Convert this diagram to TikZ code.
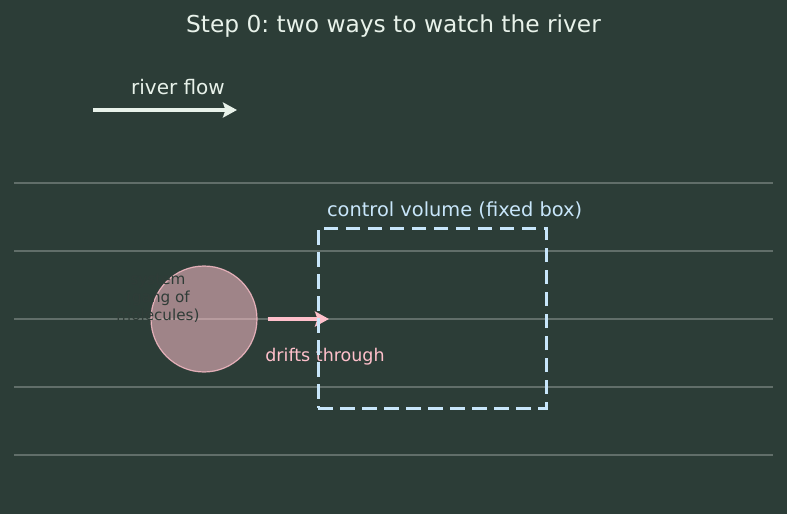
\documentclass[tikz,border=0pt]{standalone}
\usepackage{fontspec}
\setmainfont{DejaVu Sans}
\frenchspacing
\usetikzlibrary{arrows.meta}
\usetikzlibrary{positioning}
\definecolor{riverbg}{HTML}{2C3D37}
\definecolor{waterline}{HTML}{616E69}
\definecolor{paletext}{HTML}{E8F2EA}
\definecolor{cvblue}{HTML}{C8E6FA}
\definecolor{blobpink}{HTML}{FFC0CB}
\definecolor{blobtext}{HTML}{2F3C37}
\tikzset{
semithick, % all lines semithick
>={Stealth[length=14pt,width=15pt,inset=2.5pt]}, % filled heads
water line/.style={draw=waterline,line width=1.5pt},
flow arrow/.style={->,draw=paletext,line width=3.3pt},
drift arrow/.style={->,draw=blobpink,line width=3.3pt},
sys blob/.style={circle,draw=blobpink,line width=1.2pt,fill=blobpink,
  fill opacity=0.55,draw opacity=0.8,minimum size=106pt,inner sep=0pt},
sys text/.style={text=blobtext,align=center,font=\fontsize{15.2}{18.2}\selectfont},
cv box/.style={draw=cvblue,line width=3pt,dash pattern=on 14.5pt off 7.5pt,
  minimum width=228pt,minimum height=180pt,inner sep=0pt},
title text/.style={text=paletext,font=\fontsize{23.3}{28}\selectfont,anchor=base},
flow text/.style={text=paletext,font=\fontsize{20}{24}\selectfont,anchor=base},
cv text/.style={text=cvblue,font=\fontsize{19.4}{23}\selectfont,anchor=base west},
drift text/.style={text=blobpink,font=\fontsize{17.5}{21}\selectfont,anchor=base}
}

\begin{document}
\begin{tikzpicture}[x=1pt,y=-1pt]
\fill[riverbg] (0,0) rectangle (787,514);
\useasboundingbox (0,0) rectangle (787,514);
% river
\draw[water line] (14,183) -- (773,183);
\draw[water line] (14,251) -- (773,251);
\draw[water line] (14,319) -- (773,319);
\draw[water line] (14,387) -- (773,387);
\draw[water line] (14,455) -- (773,455);
\node[title text] (title) at (393.5,32) {Step 0: two ways to watch the river};
\node[flow text] (flowlbl) at (178,94) {river flow};
\coordinate (flow start) at (93,110);
\coordinate (flow end) at (237,110);
\draw[flow arrow] (flow start) -- (flow end);
% the system
\node[sys blob] (sys) at (204,319) {};
\node[sys text] (syslbl) at (158,298) {system\\(gang of\\molecules)};
\coordinate (drift start) at ([xshift=10pt]sys.east);
\coordinate (drift end) at (329,319);
\draw[drift arrow] (drift start) -- (drift end);
\node[drift text] (driftlbl) at (325,361) {drifts through};
% the control volume
\node[cv box] (cv) at (432,318) {};
\node[cv text] (cvlbl) at ([xshift=7pt,yshift=10pt]cv.north west) {control volume (fixed box)};
\end{tikzpicture}
\end{document}
